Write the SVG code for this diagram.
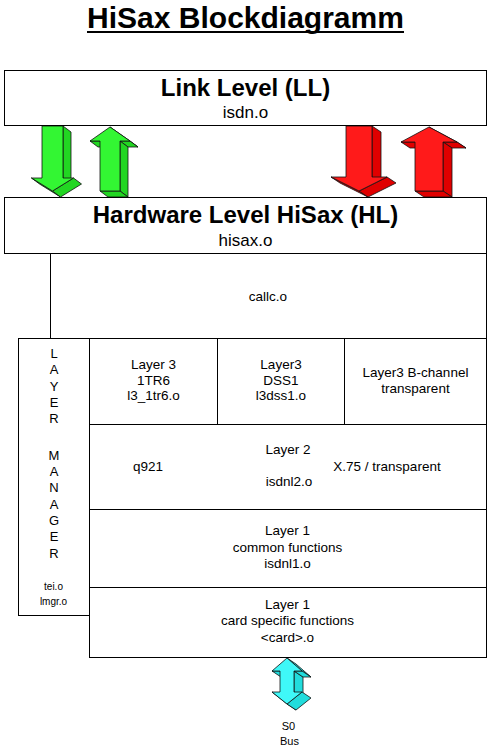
<svg xmlns="http://www.w3.org/2000/svg" width="489" height="756" viewBox="0 0 489 756">
<style>
  .bg{fill:#fff}
  .box{fill:#fff;stroke:#000;stroke-width:1}
  .ln{stroke:#000;stroke-width:1;fill:none}
  .t{font-family:"Liberation Sans",Arial,Helvetica,sans-serif;fill:#000;text-anchor:middle}
  .h{font-weight:bold;font-size:24px}
  .m{font-size:17px}
  .s{font-size:13.5px}
  .lm{font-size:13px}
  .xs{font-size:10px}
  .bus{font-size:11px}
  .ar{stroke:#111;stroke-width:0.8;stroke-linejoin:round}
  .gf{fill:#33f633}.gs{fill:#22d622}
  .rf{fill:#ff1a1a}.rs{fill:#e00000}
  .cf{fill:#3ff8f8}.cs{fill:#22dcdc}
</style>
<rect class="bg" x="0" y="0" width="489" height="756"/>

<g id="title">
  <text class="t" x="245.5" y="28" font-weight="bold" font-size="30">HiSax Blockdiagramm</text>
  <line x1="87" y1="32" x2="404" y2="32" stroke="#000" stroke-width="2"/>
</g>

<g id="connectors">
  <!-- green down -->
  <g class="ar">
    <polygon class="gs" points="63,126 71,132 71,184 63,178"/>
    <polygon class="gs" points="31.5,178 52.5,191 60.5,197 39.5,184"/>
    <polygon class="gs" points="73.5,178 52.5,191 60.5,197 81.5,184"/>
    <polygon class="gf" points="42,126 63,126 63,178 73.5,178 52.5,191 31.5,178 42,178"/>
  </g>
  <!-- green up -->
  <g class="ar">
    <polygon class="gs" points="110,127 130,141 138,147 118,133"/>
    <polygon class="gs" points="120,141 130,141 138,147 128,147"/>
    <polygon class="gs" points="120,141 128,147 128,197 120,191"/>
    <polygon class="gs" points="90,141 100,141 108,147 98,147"/>
    <polygon class="gs" points="100,191 120,191 128,197 108,197"/>
    <polygon class="gf" points="110,127 130,141 120,141 120,191 100,191 100,141 90,141"/>
  </g>
  <!-- red down -->
  <g class="ar">
    <polygon class="rs" points="372,126 381,132 381,183 372,177"/>
    <polygon class="rs" points="331,177 359,191 368,197 340,183"/>
    <polygon class="rs" points="387,177 359,191 368,197 396,183"/>
    <polygon class="rf" points="346,126 372,126 372,177 387,177 359,191 331,177 346,177"/>
  </g>
  <!-- red up -->
  <g class="ar">
    <polygon class="rs" points="429,127 457,142 466,148 438,133"/>
    <polygon class="rs" points="443,142 457,142 466,148 452,148"/>
    <polygon class="rs" points="443,142 452,148 452,197 443,191"/>
    <polygon class="rs" points="401,142 415,142 424,148 410,148"/>
    <polygon class="rs" points="415,191 443,191 452,197 424,197"/>
    <polygon class="rf" points="429,127 457,142 443,142 443,191 415,191 415,142 401,142"/>
  </g>
  <!-- cyan double arrow -->
  <g class="ar">
    <polygon class="cs" points="287,658 302,671 311,677 296,664"/>
    <polygon class="cs" points="294,671 303,677 303,698 294,692"/>
    <polygon class="cs" points="294,671 302,671 311,677 303,677"/>
    <polygon class="cs" points="272,671 280,671 289,677 281,677"/>
    <polygon class="cs" points="272,692 287,704 296,710 281,698"/>
    <polygon class="cs" points="302,692 287,704 296,710 311,698"/>
    <polygon class="cf" points="287,658 302,671 294,671 294,692 302,692 287,704 272,692 280,692 280,671 272,671"/>
  </g>
</g>

<g id="ll">
  <rect class="box" x="4.5" y="70.5" width="482" height="55"/>
  <text class="t h" x="245.5" y="96">Link Level (LL)</text>
  <text class="t m" x="245.5" y="117.5">isdn.o</text>
</g>

<g id="hl">
  <rect class="box" x="4.5" y="197.5" width="482" height="56"/>
  <text class="t h" x="245.5" y="222.5">Hardware Level HiSax (HL)</text>
  <text class="t m" x="245.5" y="246">hisax.o</text>
</g>

<g id="callc">
  <rect class="box" x="50.5" y="253.5" width="436" height="85"/>
  <text class="t s" x="268" y="300.5">callc.o</text>
</g>

<g id="layermanager">
  <rect class="box" x="18.5" y="338.5" width="71" height="277"/>
  <text class="t lm" x="54" y="357.5">L</text>
  <text class="t lm" x="54" y="374">A</text>
  <text class="t lm" x="54" y="390.5">Y</text>
  <text class="t lm" x="54" y="406.5">E</text>
  <text class="t lm" x="54" y="423">R</text>
  <text class="t lm" x="54" y="459.5">M</text>
  <text class="t lm" x="54" y="476">A</text>
  <text class="t lm" x="54" y="492">N</text>
  <text class="t lm" x="54" y="508.5">A</text>
  <text class="t lm" x="54" y="525">G</text>
  <text class="t lm" x="54" y="541">E</text>
  <text class="t lm" x="54" y="557.5">R</text>
  <text class="t xs" x="53.5" y="589.5">tei.o</text>
  <text class="t xs" x="53.5" y="605">lmgr.o</text>
</g>

<g id="l3-1tr6">
  <rect class="box" x="89.5" y="338.5" width="128" height="86"/>
  <text class="t s" x="153.5" y="369">Layer 3</text>
  <text class="t s" x="153.5" y="384.5">1TR6</text>
  <text class="t s" x="153.5" y="400">l3_1tr6.o</text>
</g>

<g id="l3-dss1">
  <rect class="box" x="217.5" y="338.5" width="127" height="86"/>
  <text class="t s" x="281" y="369">Layer3</text>
  <text class="t s" x="281" y="384.5">DSS1</text>
  <text class="t s" x="281" y="400">l3dss1.o</text>
</g>

<g id="l3-transparent">
  <rect class="box" x="344.5" y="338.5" width="142" height="86"/>
  <text class="t s" x="415.5" y="377">Layer3 B-channel</text>
  <text class="t s" x="415.5" y="392.5">transparent</text>
</g>

<g id="layer2">
  <rect class="box" x="89.5" y="424.5" width="397" height="85"/>
  <text class="t s" x="288" y="454">Layer 2</text>
  <text class="t s" x="148" y="470.5">q921</text>
  <text class="t s" x="387" y="470.5">X.75 / transparent</text>
  <text class="t s" x="289" y="486">isdnl2.o</text>
</g>

<g id="layer1-common">
  <rect class="box" x="89.5" y="509.5" width="397" height="78"/>
  <text class="t s" x="287.5" y="535">Layer 1</text>
  <text class="t s" x="287.5" y="551.5">common functions</text>
  <text class="t s" x="287.5" y="568">isdnl1.o</text>
</g>

<g id="layer1-card">
  <rect class="box" x="89.5" y="587.5" width="397" height="70"/>
  <text class="t s" x="287.5" y="608.5">Layer 1</text>
  <text class="t s" x="287.5" y="625">card specific functions</text>
  <text class="t s" x="287.5" y="641.5">&lt;card&gt;.o</text>
</g>

<g id="s0bus">
  <text class="t bus" x="288.5" y="730">S0</text>
  <text class="t bus" x="289.5" y="745">Bus</text>
</g>
</svg>
